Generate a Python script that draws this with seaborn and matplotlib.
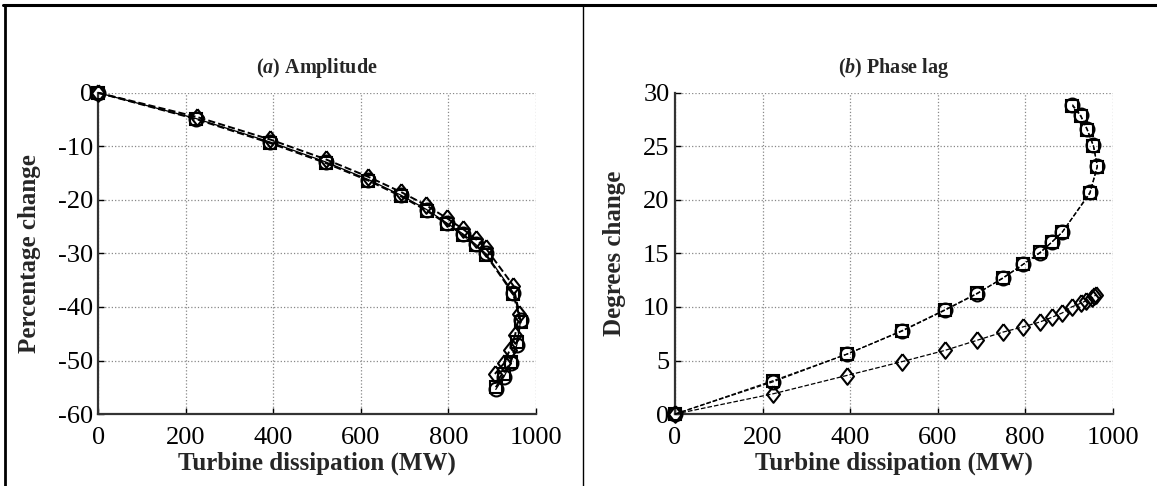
import matplotlib
matplotlib.use("Agg")
import matplotlib.pyplot as plt
import seaborn as sns
import pandas as pd
from matplotlib.lines import Line2D

# ---------------- data ----------------
x_main = [0, 223, 393, 519, 617, 691, 750, 796, 834, 862, 885, 948, 965, 956, 942, 927, 908]
x_dia = [0, 225, 392, 519, 617, 691, 749, 796, 834, 862, 885, 948, 962, 952, 940, 927, 906]

amp_circle = [0, -4.8, -9.2, -12.9, -16.2, -19.1, -21.8, -24.3, -26.4, -28.3, -30.0,
              -37.3, -42.4, -47.1, -50.5, -53.0, -55.4]
amp_square = [0, -4.9, -9.4, -13.1, -16.4, -19.3, -22.0, -24.5, -26.6, -28.5, -30.2,
              -37.6, -42.8, -46.5, -50.2, -52.6, -55.0]
amp_diamond = [0, -4.5, -8.7, -12.4, -15.7, -18.5, -21.0, -23.4, -25.5, -27.3, -29.0,
               -36.0, -41.3, -45.3, -48.0, -50.5, -52.5]

x_pdia = [0, 225, 392, 519, 617, 691, 749, 796, 834, 862, 885, 906, 927, 940, 952, 958, 962]
ph_circle = [0, 3.0, 5.6, 7.75, 9.7, 11.25, 12.75, 14.0, 15.05, 16.1, 17.0,
             20.7, 23.2, 25.1, 26.6, 27.9, 28.9]
ph_square = [0, 3.1, 5.6, 7.8, 9.75, 11.3, 12.7, 14.0, 15.1, 16.1, 17.0,
             20.6, 23.1, 25.0, 26.5, 27.8, 28.8]
ph_diamond = [0, 1.9, 3.6, 4.9, 5.95, 6.9, 7.65, 8.15, 8.6, 9.05, 9.45,
              10.0, 10.35, 10.6, 10.8, 11.0, 11.15]

x_ticks = [0, 200, 400, 600, 800, 1000]
amp_ticks = [0, -10, -20, -30, -40, -50, -60]
ph_ticks = [0, 5, 10, 15, 20, 25, 30]

# ---------------- style ----------------
sns.set_style("ticks")
plt.rcParams['font.family'] = ['Liberation Serif', 'DejaVu Serif']
plt.rcParams['mathtext.fontset'] = 'custom'
plt.rcParams['mathtext.it'] = 'Liberation Serif:italic:bold'
plt.rcParams['mathtext.rm'] = 'Liberation Serif:bold'

fig = plt.figure(figsize=(11.57, 4.86), dpi=100)
ax1 = fig.add_axes([0.085, 0.148, 0.3783, 0.661])
ax2 = fig.add_axes([0.5834, 0.148, 0.3783, 0.661])

DIAMOND = [(0, 1), (0.78, 0), (0, -1), (-0.78, 0), (0, 1)]


def draw(ax, xs, ys, marker, ls, lw, ms):
    df = pd.DataFrame({"x": xs, "y": ys})
    sns.lineplot(data=df, x="x", y="y", linestyle=ls, color="black", marker=marker,
                 markersize=ms, markerfacecolor="none", markeredgecolor="black",
                 markeredgewidth=1.5, linewidth=lw, sort=False, estimator=None,
                 ax=ax, clip_on=False, zorder=3)


# panel (a)
draw(ax1, x_main, amp_circle, 'o', '-', 0.9, 10)
draw(ax1, x_main, amp_square, 's', '--', 1.4, 8.5)
draw(ax1, x_dia, amp_diamond, DIAMOND, '--', 1.4, 12)

# panel (b)
draw(ax2, x_main, ph_circle, 'o', '--', 0.9, 10)
draw(ax2, x_main, ph_square, 's', '--', 0.9, 8.5)
draw(ax2, x_pdia, ph_diamond, DIAMOND, '--', 0.9, 12)

for ax, yt, ylim, ylab, title in [
        (ax1, amp_ticks, (-60, 0), "Percentage change", r"($\mathit{a}$) Amplitude"),
        (ax2, ph_ticks, (0, 30), "Degrees change", r"($\mathit{b}$) Phase lag")]:
    ax.set_xlim(0, 1000)
    ax.set_ylim(*ylim)
    ax.set_xticks(x_ticks)
    ax.set_yticks(yt)
    ax.set_xticklabels([str(t) for t in x_ticks])
    ax.set_yticklabels([str(t) for t in yt])
    ax.tick_params(axis='both', direction='in', length=4, width=1, labelsize=19,
                   colors='black')
    ax.tick_params(axis='x', pad=9)
    ax.tick_params(axis='y', pad=4)
    ax.grid(True, linestyle=':', color='#888888', linewidth=0.9)
    ax.set_axisbelow(True)
    for s in ['top', 'right']:
        ax.spines[s].set_visible(False)
    for s in ['left', 'bottom']:
        ax.spines[s].set_linewidth(1.6)
        ax.spines[s].set_color('#333333')
    ax.set_xlabel("Turbine dissipation (MW)", fontsize=18, fontweight='bold', labelpad=2)
    ax.set_ylabel(ylab, fontsize=18, fontweight='bold', labelpad=12)
    ax.set_title(title, fontsize=14.5, fontweight='bold', pad=14)

# frame lines
fig.add_artist(Line2D([0.003, 1.0], [0.99, 0.99], transform=fig.transFigure,
                      color='black', linewidth=2.2))
fig.add_artist(Line2D([0.004, 0.004], [0.0, 0.99], transform=fig.transFigure,
                      color='black', linewidth=2.0))
fig.add_artist(Line2D([0.504, 0.504], [0.0, 0.99], transform=fig.transFigure,
                      color='black', linewidth=1.0))

fig.savefig("out.png", dpi=100, facecolor='white')
